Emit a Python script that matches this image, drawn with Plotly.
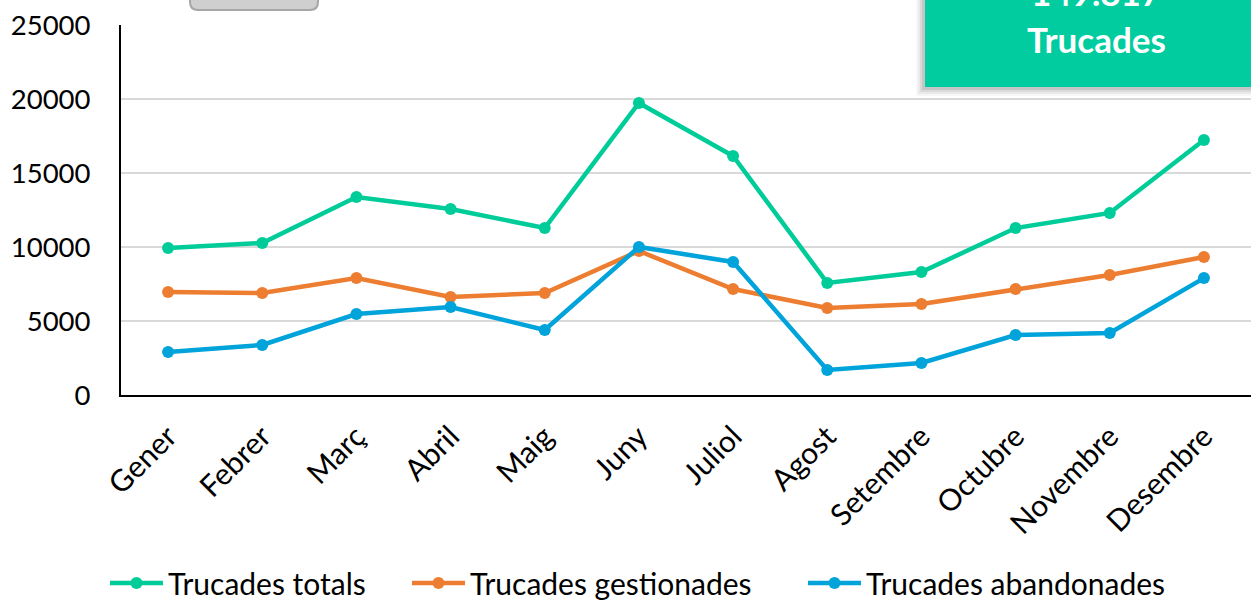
import plotly.graph_objects as go

months = ["Gener", "Febrer", "Març", "Abril", "Maig", "Juny", "Juliol",
          "Agost", "Setembre", "Octubre", "Novembre", "Desembre"]
totals = [9930, 10270, 13380, 12570, 11280, 19730, 16150, 7570, 8310, 11280, 12300, 17230]
gestionades = [6960, 6890, 7900, 6620, 6890, 9730, 7160, 5880, 6150, 7160, 8110, 9320]
abandonades = [2905, 3380, 5470, 5950, 4390, 10000, 8990, 1690, 2160, 4050, 4190, 7900]
yticks = [0, 5000, 10000, 15000, 20000, 25000]
box_number = "149.817"
box_label = "Trucades"

FONT = "Lato"
W, H = 1251, 601
L, T = 121, 25
PW, PH = 1130, 370
B = H - T - PH

def px_x(x):  # pixel -> paper fraction
    return (x - L) / PW

def px_y(y):
    return 1 - (y - T) / PH

series = [
    ("Trucades totals", totals, "#00CC99", "legend", 110),
    ("Trucades gestionades", gestionades, "#ED7D31", "legend2", 412),
    ("Trucades abandonades", abandonades, "#00A3DA", "legend3", 808),
]

fig = go.Figure()
legends = {}
for name, vals, col, lg, lx in series:
    fig.add_trace(go.Scatter(
        x=months, y=vals, name=name, mode="lines+markers",
        line=dict(color=col, width=4.5),
        marker=dict(color=col, size=12),
        legend=lg,
    ))
    legends[lg] = dict(orientation="h", x=px_x(lx - 5), xanchor="left",
                       y=px_y(583), yanchor="middle", font=dict(size=30, family=FONT),
                       itemwidth=53, bgcolor="rgba(0,0,0,0)")

fig.update_layout(
    width=W, height=H,
    margin=dict(l=L, r=0, t=T, b=B, autoexpand=False),
    paper_bgcolor="white", plot_bgcolor="white",
    font=dict(family=FONT, color="black"),
    showlegend=True,
    xaxis=dict(showline=True, linecolor="black", linewidth=2, tickangle=-45,
               tickfont=dict(size=30), showgrid=False, ticks="",
               ticklabelstandoff=10, range=[-0.5, 11.5], automargin=False),
    yaxis=dict(range=[0, 25000], tickvals=yticks, ticktext=[str(v) for v in yticks],
               showline=True, linecolor="black", linewidth=2,
               gridcolor="#D9D9D9", gridwidth=2, tickfont=dict(size=27.5),
               ticklabelstandoff=23, zeroline=False, automargin=False),
    **legends,
)

# grey rounded tab at top-left (partially visible)
x0, x1 = px_x(190), px_x(318)
yb, yt = px_y(10), px_y(-20)
rx, ry = 8 / PW, 8 / PH
path = (f"M {x0},{yt} L {x0},{yb + ry} Q {x0},{yb} {x0 + rx},{yb} "
        f"L {x1 - rx},{yb} Q {x1},{yb} {x1},{yb + ry} L {x1},{yt} Z")
fig.add_shape(type="path", xref="paper", yref="paper", path=path,
              fillcolor="#CFCFCF", line=dict(color="#A6A6A6", width=2), layer="above")

# green summary box with soft shadow (down-left)
bx0, by0 = 925, 87
for d, op in [(9, 0.05), (7, 0.08), (5, 0.11), (3, 0.15)]:
    fig.add_shape(type="rect", xref="paper", yref="paper",
                  x0=px_x(bx0 - d), x1=px_x(1260), y0=px_y(by0 + d), y1=px_y(-20),
                  fillcolor=f"rgba(90,90,90,{op})", line=dict(width=0), layer="above")
fig.add_shape(type="rect", xref="paper", yref="paper",
              x0=px_x(bx0), x1=px_x(1260), y0=px_y(by0), y1=px_y(-20),
              fillcolor="#00CC9F", line=dict(width=0), layer="above")
fig.add_annotation(xref="paper", yref="paper", x=px_x(1096), y=px_y(-8),
                   text=f"<b>{box_number}</b>", showarrow=False,
                   font=dict(size=35, color="white", family=FONT),
                   yanchor="middle", xanchor="center")
fig.add_annotation(xref="paper", yref="paper", x=px_x(1096), y=px_y(39),
                   text=f"<b>{box_label}</b>", showarrow=False,
                   font=dict(size=35, color="white", family=FONT),
                   yanchor="middle", xanchor="center")

fig.write_html("out.html", config={"displayModeBar": False},
               post_script="document.body.style.margin='0';document.body.style.overflow='hidden';")
